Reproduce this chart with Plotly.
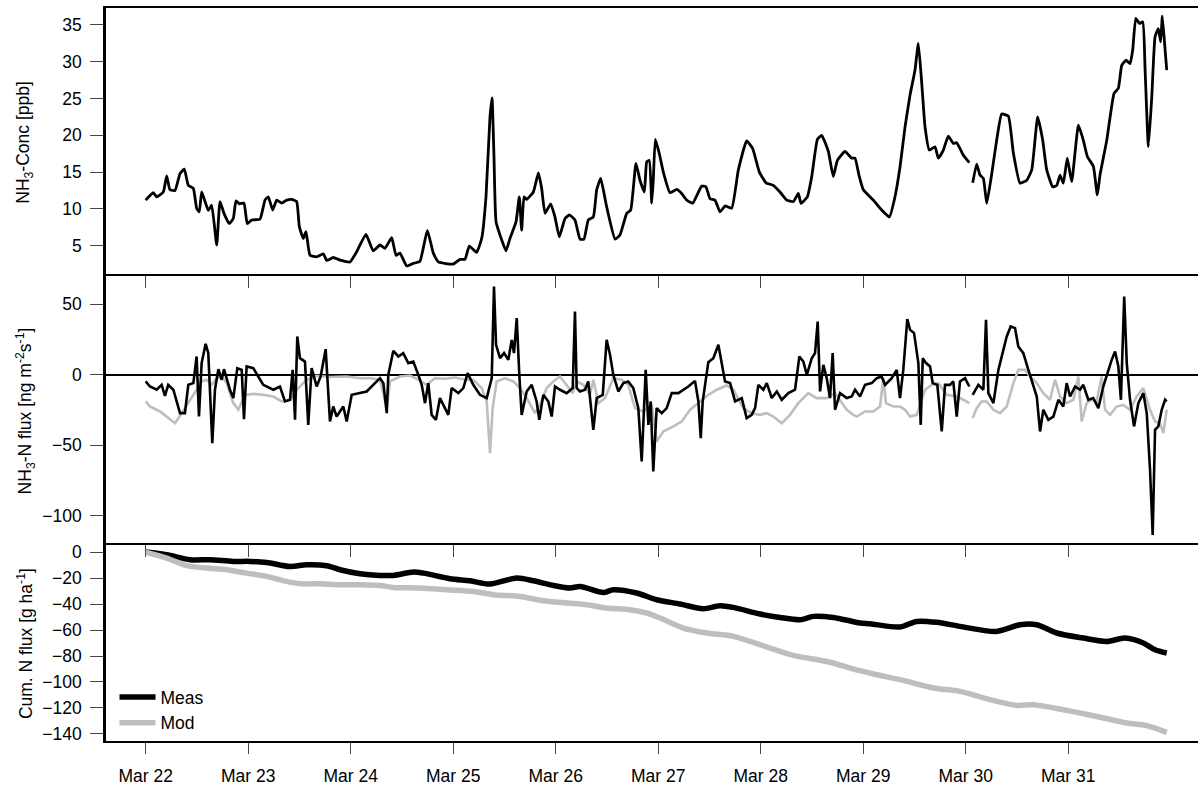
import pandas as pd
import plotly.graph_objects as go

# ---------------- data (time in days since Mar 22 00:00) ----------------
START = "2015-03-22"
tick_days = [0, 1, 2, 3, 4, 5, 6, 7, 8, 9]
tick_labels = ["Mar 22", "Mar 23", "Mar 24", "Mar 25", "Mar 26",
               "Mar 27", "Mar 28", "Mar 29", "Mar 30", "Mar 31"]

conc_days = [0, .074, .107, .172, .205, .237, .286, .335, .377, .416, .465, .497, .523, .546, .579, .611,
             .644, .693, .725, .764, .816, .855, .881, .913, .959, .991, 1.034, 1.115, 1.164, 1.196, 1.239,
             1.278, 1.327, 1.376, 1.424, 1.473, 1.499, 1.538, 1.564, 1.603, 1.668, 1.733, 1.766, 1.83, 1.896,
             1.993, 2.059, 2.149, 2.22, 2.286, 2.335, 2.40, 2.442, 2.481, 2.546, 2.611, 2.676, 2.748, 2.806,
             2.855, 3.0, 3.066, 3.115, 3.157, 3.229, 3.278, 3.32, 3.359, 3.379, 3.398, 3.418, 3.473, 3.515,
             3.554, 3.613, 3.645, 3.668, 3.691, 3.717, 3.782, 3.831, 3.863, 3.896, 3.951, 3.993, 4.035, 4.091,
             4.133, 4.188, 4.237, 4.276, 4.318, 4.367, 4.40, 4.439, 4.497, 4.579, 4.627, 4.693, 4.732, 4.783,
             4.822, 4.865, 4.888, 4.913, 4.937, 4.952, 4.972, 5.011, 5.05, 5.115, 5.18, 5.229, 5.278, 5.337,
             5.424, 5.466, 5.505, 5.554, 5.603, 5.652, 5.717, 5.782, 5.863, 5.922, 5.987, 6.052, 6.123, 6.188,
             6.254, 6.318, 6.367, 6.393, 6.455, 6.498, 6.553, 6.595, 6.66, 6.708, 6.748, 6.822, 6.888, 6.92,
             6.96, 7.001, 7.099, 7.18, 7.255, 7.31, 7.359, 7.408, 7.457, 7.505, 7.538, 7.571, 7.603, 7.645,
             7.70, 7.733, 7.782, 7.83, 7.879, 7.912, 7.977, 8.035, 8.05, 8.068, 8.107, 8.139, 8.172, 8.205,
             8.254, 8.302, 8.351, 8.416, 8.465, 8.53, 8.595, 8.644, 8.702, 8.751, 8.79, 8.849, 8.888, 8.92,
             8.952, 8.991, 9.034, 9.099, 9.147, 9.187, 9.245, 9.284, 9.31, 9.376, 9.447, 9.489, 9.522, 9.564,
             9.603, 9.629, 9.659, 9.694, 9.727, 9.75, 9.782, 9.815, 9.847, 9.879, 9.902, 9.918, 9.945, 9.961]
conc_vals = [11.2, 12.2, 11.65, 12.3, 14.5, 12.6, 12.5, 14.8, 15.4, 13.2, 12.8, 10.1, 9.6, 12.3, 11.0, 9.8,
             10.5, 5.1, 11.0, 9.4, 8.0, 8.7, 11.1, 10.7, 10.8, 8.0, 8.5, 8.6, 11.2, 11.65, 9.85,
             11.2, 10.8, 11.2, 11.3, 11.0, 7.6, 6.0, 6.9, 3.7, 3.5, 3.9, 3.0, 3.4, 3.05,
             2.8, 4.2, 6.55, 4.3, 5.1, 4.65, 6.1, 3.7, 4.0, 2.25, 2.6, 2.9, 7.1, 4.0,
             2.8, 2.5, 3.15, 3.15, 4.96, 4.1, 6.0, 11.65, 22.5, 25.1, 17.1, 8.26, 5.8, 4.3,
             6.0, 8.26, 11.65, 7.1, 11.65, 11.3, 12.3, 14.9, 12.8, 9.4, 10.7, 8.9, 6.2, 8.7,
             9.2, 8.5, 5.9, 5.9, 8.5, 8.9, 12.6, 14.15, 10.3, 5.9, 6.45, 9.4, 9.85, 16.2,
             13.9, 12.3, 16.4, 16.6, 10.8, 13.9, 19.45, 17.5, 15.0, 12.2, 12.65, 12.1, 11.2, 10.8,
             13.1, 13.0, 11.4, 11.2, 9.6, 10.4, 10.1, 15.3, 19.25, 18.2, 15.0, 13.55, 13.2, 12.3,
             11.2, 11.0, 12.1, 10.75, 11.65, 14.4, 19.45, 20.0, 17.8, 14.4, 16.6, 17.8, 16.9, 16.9,
             14.5, 12.6, 11.2, 9.85, 8.9, 11.65, 15.7, 21.15, 25.5, 28.85, 32.5, 27.05, 21.15, 18.0,
             18.45, 16.9, 18.0, 19.9, 18.9, 19.0, 17.3, 16.3, None, 13.55, 16.1, 14.6, 14.15, 10.75,
             14.8, 19.35, 22.9, 22.6, 17.55, 13.5, 13.9, 15.3, 22.5, 19.35, 15.3, 13.0, 13.2, 14.6,
             13.5, 16.9, 13.7, 21.4, 19.35, 17.1, 15.8, 11.9, 14.6, 19.35, 25.7, 26.4, 29.5, 30.2,
             29.75, 31.6, 35.9, 35.2, 35.4, 28.85, 18.45, 25.2, 33.4, 34.5, 32.7, 36.2, 31.6, 28.85]

flux_meas_days = [0, .042, .107, .156, .188, .22, .27, .335, .383, .416, .465, .497, .52, .546, .585, .611,
                  .65, .676, .709, .741, .764, .822, .855, .894, .937, .959, .985, 1.05, 1.147, 1.245, 1.31,
                  1.359, 1.408, 1.434, 1.457, 1.479, 1.505, 1.554, 1.586, 1.619, 1.668, 1.707, 1.756, 1.782,
                  1.798, 1.83, 1.863, 1.928, 1.961, 2.01, 2.091, 2.156, 2.22, 2.286, 2.319, 2.352, 2.367,
                  2.416, 2.465, 2.513, 2.562, 2.611, 2.66, 2.693, 2.725, 2.757, 2.79, 2.832, 2.871, 2.92,
                  2.952, 2.985, 3.05, 3.099, 3.141, 3.196, 3.261, 3.327, 3.376, 3.398, 3.418, 3.457, 3.496,
                  3.538, 3.571, 3.593, 3.62, 3.645, 3.668, 3.717, 3.766, 3.814, 3.84, 3.879, 3.928, 3.961,
                  3.993, 4.042, 4.107, 4.166, 4.188, 4.205, 4.237, 4.286, 4.318, 4.367, 4.40, 4.459, 4.497,
                  4.53, 4.562, 4.611, 4.66, 4.708, 4.757, 4.806, 4.839, 4.878, 4.904, 4.927, 4.952, 4.985,
                  5.034, 5.083, 5.132, 5.197, 5.245, 5.294, 5.359, 5.392, 5.415, 5.434, 5.489, 5.538, 5.587,
                  5.62, 5.652, 5.701, 5.75, 5.815, 5.863, 5.912, 5.945, 5.977, 6.026, 6.059, 6.108, 6.157,
                  6.205, 6.27, 6.335, 6.377, 6.416, 6.45, 6.498, 6.53, 6.556, 6.579, 6.611, 6.644, 6.676,
                  6.702, 6.725, 6.774, 6.839, 6.888, 6.92, 6.969, 7.018, 7.083, 7.132, 7.18, 7.213, 7.278,
                  7.327, 7.359, 7.391, 7.43, 7.457, 7.496, 7.538, 7.561, 7.581, 7.613, 7.652, 7.678, 7.723,
                  7.766, 7.798, 7.847, 7.879, 7.912, 7.944, 7.993, 8.035, 8.05, 8.068, 8.123, 8.172, 8.198,
                  8.221, 8.27, 8.319, 8.367, 8.4, 8.439, 8.481, 8.513, 8.562, 8.611, 8.654, 8.693, 8.725,
                  8.757, 8.806, 8.855, 8.904, 8.952, 8.985, 9.018, 9.067, 9.115, 9.147, 9.196, 9.245, 9.294,
                  9.342, 9.391, 9.424, 9.457, 9.489, 9.514, 9.546, 9.571, 9.603, 9.642, 9.684, 9.733, 9.766,
                  9.798, 9.824, 9.847, 9.879, 9.912, 9.945, 9.961]
flux_meas_vals = [-4.7, -8.3, -10.6, -7.1, -14.9, -7.1, -10.6, -27.2, -27.2, -7.1, -5.9, 13.0, -29.6, 8.3, 22.0, 15.4,
                  -48.5, -10.6, 4.0, -3.5, 4.0, -10.6, -16.5, 4.7, 3.5, -31.4, 5.9, 4.7, -7.1, -10.6, -8.3,
                  -18.9, -17.7, 3.5, -31.9, 27.2, 11.8, 9.4, -35.5, 4.7, -8.3, -1.2, 18.2, -13.0,
                  -33.1, -22.5, -29.6, -22.5, -33.1, -14.2, -13.0, -11.8, -7.1, -2.4, -5.9, -27.2, 0.0,
                  17.0, 13.0, 15.4, 8.3, 9.4, 0.0, -7.1, -20.1, -5.9, -28.4, -31.9, -16.5, -23.6,
                  -28.4, -9.4, -13.0, -9.4, 1.2, -7.1, -14.2, -16.5, -2.4, 62.6, 21.3, 11.8, 15.4,
                  10.6, 24.8, 15.4, 40.2, 0.0, -28.4, -11.8, -7.1, -18.9, -31.9, -14.2, -18.9, -29.6,
                  -8.3, -10.6, -13.0, -9.4, 44.9, -9.4, -11.8, -10.6, -4.7, -39.0, -16.5, -14.2, 24.8,
                  14.2, 0.0, -11.8, -5.9, -4.7, -9.4, -23.6, -61.5, 3.5, -35.5, -18.9, -68.6, -23.6,
                  -27.2, -23.6, -13.0, -13.0, -10.6, -8.3, -4.3, -18.9, -44.9, -18.9, 9.0, 11.8, 21.3,
                  7.1, -4.7, -5.9, -18.9, -16.5, -30.7, -28.4, -23.6, -7.1, -10.6, -5.9, -16.5, -11.8,
                  -17.7, -13.0, -10.6, 13.0, 9.4, 0.0, 11.8, 15.4, 37.8, -11.8, 7.1, -2.4, -16.5,
                  15.4, -24.8, -13.0, -16.5, -15.4, -10.6, -15.4, -7.1, -5.9, -2.4, -1.2, -7.1, -2.4,
                  3.5, -16.5, 3.5, 39.5, 31.9, 29.6, 8.3, -35.5, 11.8, 8.3, 5.9, -5.9, -7.1,
                  -40.2, -7.1, -7.1, -4.7, -29.6, -4.7, -2.4, -8.3, None, -14.2, -7.1, -10.6, 39.0,
                  -13.0, -20.1, 3.5, 17.7, 27.2, 34.3, 33.1, 20.1, 15.4, 3.5, -7.1, -15.4, -40.2,
                  -24.8, -31.9, -29.6, -17.7, -22.5, -5.9, -15.4, -8.3, -10.6, -7.1, -17.7, -16.5, -23.6,
                  -8.3, 3.5, 10.6, 16.5, 5.9, -17.7, 55.5, 8.3, -17.7, -36.6, -20.1, -13.0, -27.2,
                  -67.4, -113.5, -39.0, -36.6, -24.8, -17.7, -18.9]

flux_mod_days = [0, .042, .14, .205, .286, .351, .416, .497, .546, .595, .644, .693, .741, .79, .855, .904,
                 .969, 1.05, 1.147, 1.245, 1.326, 1.408, 1.473, 1.57, 1.668, 1.798, 1.961, 2.091, 2.188, 2.286,
                 2.352, 2.384, 2.481, 2.578, 2.66, 2.741, 2.822, 2.92, 3.017, 3.115, 3.196, 3.278, 3.327,
                 3.359, 3.385, 3.424, 3.506, 3.587, 3.652, 3.717, 3.798, 3.847, 3.912, 3.977, 4.042, 4.107,
                 4.166, 4.205, 4.27, 4.335, 4.367, 4.416, 4.481, 4.562, 4.643, 4.708, 4.773, 4.855, 4.937,
                 4.985, 5.05, 5.148, 5.229, 5.31, 5.392, 5.489, 5.571, 5.668, 5.733, 5.83, 5.912, 5.993,
                 6.059, 6.123, 6.205, 6.286, 6.367, 6.465, 6.546, 6.644, 6.725, 6.839, 6.904, 6.937, 7.018,
                 7.099, 7.164, 7.196, 7.222, 7.294, 7.359, 7.408, 7.457, 7.522, 7.561, 7.603, 7.668, 7.733,
                 7.815, 7.912, 7.977, 8.035, 8.05, 8.068, 8.107, 8.156, 8.205, 8.27, 8.335, 8.4, 8.465,
                 8.513, 8.578, 8.627, 8.693, 8.757, 8.822, 8.871, 8.92, 8.985, 9.05, 9.099, 9.131, 9.18,
                 9.229, 9.277, 9.326, 9.359, 9.408, 9.473, 9.538, 9.603, 9.668, 9.733, 9.798, 9.847, 9.896,
                 9.928, 9.961]
flux_mod_vals = [-18.9, -22.5, -26.0, -29.6, -34.3, -27.2, -20.1, -10.6, -4.7, -3.5, -7.1, -2.4, -1.2, -5.9, -20.1, -24.8,
                 -14.2, -13.5, -14.2, -15.4, -18.9, -17.7, -10.6, -3.5, -0.7, -1.6, -1.2, -2.4, -2.4, -3.5,
                 -23.6, -4.7, -1.2, -0.5, -3.5, -7.1, -2.4, -2.8, -1.9, -3.5, -3.5, -9.4, -18.9,
                 -55.5, -23.6, -4.7, -2.4, -4.7, -9.4, -16.5, -27.2, -21.3, -9.4, -4.7, -1.2, -7.1,
                 -13.0, -4.7, -7.1, -14.2, -3.5, -20.1, -16.5, -2.4, -3.5, -7.1, -23.6, -26.0, -21.3,
                 -47.3, -40.2, -36.6, -33.1, -24.8, -20.1, -14.2, -10.6, -7.6, -10.6, -23.6, -27.2, -28.4,
                 -27.2, -29.6, -34.3, -28.4, -20.1, -13.0, -16.5, -16.5, -13.0, -24.8, -28.4, -29.6, -26.0,
                 -26.0, -22.5, -2.4, -20.1, -22.5, -22.5, -24.8, -29.6, -28.4, -20.1, -10.6, -7.1, -5.9,
                 -14.2, -15.4, -17.7, -20.1, None, -30.7, -23.6, -18.9, -18.9, -24.8, -27.2, -22.5, -5.9,
                 3.5, 3.5, -1.2, -5.9, -13.0, -17.7, -3.5, -15.4, -20.1, -17.7, -1.2, -33.1, -20.1,
                 -17.7, -18.9, -1.2, -24.8, -28.4, -22.5, -21.3, -24.8, -15.4, -9.4, -24.8, -33.1, -34.3,
                 -41.4, -24.8]

cum_meas_days = [0, .205, .432, .627, .855, 1.018, 1.18, 1.408, 1.57, 1.765, 1.896, 2.091, 2.286, 2.416, 2.611,
                 2.709, 2.969, 3.164, 3.359, 3.62, 3.782, 3.977, 4.14, 4.237, 4.465, 4.562, 4.79, 4.985, 5.213,
                 5.44, 5.603, 5.733, 5.993, 6.188, 6.384, 6.514, 6.708, 6.969, 7.067, 7.36, 7.52, 7.717, 7.944,
                 8.30, 8.53, 8.693, 8.888, 9.147, 9.376, 9.554, 9.733, 9.847, 9.961]
cum_meas_vals = [0.0, -2.1, -5.9, -5.9, -7.2, -7.2, -8.0, -11.1, -9.8, -10.5, -13.6, -16.7, -18.0, -18.0, -15.4,
                 -16.2, -20.5, -22.1, -24.6, -20.0, -22.1, -25.7, -27.7, -26.5, -31.1, -29.0, -31.5, -36.7, -40.0,
                 -43.6, -41.3, -42.6, -47.7, -50.3, -52.1, -49.5, -50.3, -54.6, -55.2, -57.7, -53.4, -54.1, -57.2,
                 -61.1, -55.9, -55.9, -62.3, -66.2, -68.8, -66.2, -70.0, -75.2, -77.7]

cum_mod_days = [0, .205, .4, .595, .79, .985, 1.18, 1.375, 1.505, 1.7, 1.896, 2.091, 2.286, 2.416, 2.676, 2.937,
                3.196, 3.392, 3.652, 3.88, 4.107, 4.302, 4.497, 4.725, 4.888, 5.018, 5.245, 5.473, 5.733, 5.993,
                6.319, 6.644, 6.969, 7.132, 7.36, 7.685, 7.944, 8.237, 8.497, 8.66, 8.953, 9.28, 9.57, 9.766, 9.961]
cum_mod_vals = [0.0, -4.6, -10.5, -12.3, -13.6, -16.2, -18.7, -22.6, -24.4, -24.4, -25.2, -25.2, -25.7, -27.2, -27.7, -29.0,
                -30.3, -32.8, -34.2, -37.5, -39.2, -40.5, -43.1, -44.4, -46.9, -50.8, -58.5, -62.3, -64.9, -71.3,
                -79.5, -84.2, -91.3, -94.4, -98.2, -104.6, -107.2, -113.6, -118.0, -117.5, -121.3, -126.5, -131.5, -133.6, -138.8]

conc_ticks = [5, 10, 15, 20, 25, 30, 35]
flux_ticks = [-100, -50, 0, 50]
cum_ticks = [0, -20, -40, -60, -80, -100, -120, -140]

# ---------------- helpers ----------------
BASE = pd.Timestamp(START)


def to_time(days):
    return [BASE + pd.Timedelta(days=d) for d in days]


GREY = "#bebebe"
FONT = "Liberation Sans, Arial, sans-serif"
FS = 17.5

fig = go.Figure()
fig.add_trace(go.Scatter(x=to_time(conc_days), y=conc_vals, mode="lines",
                         line=dict(color="black", width=2.8, shape="spline", smoothing=0.4),
                         xaxis="x", yaxis="y", showlegend=False, connectgaps=False))
fig.add_trace(go.Scatter(x=to_time(flux_mod_days), y=flux_mod_vals, mode="lines",
                         line=dict(color=GREY, width=2.6), xaxis="x2", yaxis="y2",
                         showlegend=False, connectgaps=False))
fig.add_trace(go.Scatter(x=to_time(flux_meas_days), y=flux_meas_vals, mode="lines",
                         line=dict(color="black", width=2.6), xaxis="x2", yaxis="y2",
                         showlegend=False, connectgaps=False))
fig.add_trace(go.Scatter(x=to_time(cum_meas_days), y=cum_meas_vals, mode="lines", name="Meas",
                         line=dict(color="black", width=5.5, shape="spline", smoothing=0.8),
                         xaxis="x3", yaxis="y3"))
fig.add_trace(go.Scatter(x=to_time(cum_mod_days), y=cum_mod_vals, mode="lines", name="Mod",
                         line=dict(color=GREY, width=5.5, shape="spline", smoothing=0.8),
                         xaxis="x4", yaxis="y3"))

xrange = [BASE - pd.Timedelta(days=0.387), BASE + pd.Timedelta(days=10.266)]
tickvals = to_time(tick_days)

common_x = dict(type="date", range=xrange, tickvals=tickvals, ticktext=tick_labels,
                showgrid=False, zeroline=False, showline=True, mirror=False,
                linecolor="black", linewidth=2, tickcolor="#444444", tickwidth=1,
                domain=[0, 1])
common_y = dict(showgrid=False, showline=True, linecolor="black", linewidth=2.6,
                ticks="outside", ticklen=13, tickwidth=1.1, tickcolor="#444444",
                tickfont=dict(size=FS, color="black", family=FONT), ticklabelstandoff=5)

dom1 = [0.635, 1.0]
dom2 = [0.267, 0.635]
dom3 = [0.0, 0.267]

fig.update_layout(
    width=1198, height=790,
    margin=dict(l=106, r=0, t=8, b=49),
    paper_bgcolor="white", plot_bgcolor="white",
    font=dict(family=FONT, size=FS, color="black"),
    xaxis=dict(common_x, anchor="y", side="top", ticks="", showticklabels=False),
    xaxis2=dict(common_x, anchor="y2", side="top", ticks="inside", ticklen=12,
                showticklabels=False),
    xaxis3=dict(common_x, anchor="y3", side="top", ticks="inside", ticklen=12,
                showticklabels=False),
    xaxis4=dict(common_x, anchor="y3", overlaying="x3", side="bottom", ticks="outside",
                ticklen=11, showticklabels=True, ticklabelstandoff=7,
                tickfont=dict(size=FS, color="black", family=FONT)),
    yaxis=dict(common_y, domain=dom1, range=[0.95, 37.3], tickvals=conc_ticks, anchor="x",
               zeroline=False),
    yaxis2=dict(common_y, domain=dom2, range=[-120.9, 70.4], tickvals=flux_ticks, anchor="x2",
                zeroline=True, zerolinecolor="black", zerolinewidth=1.5),
    yaxis3=dict(common_y, domain=dom3, range=[-145.4, 5.2], tickvals=cum_ticks, anchor="x3",
                zeroline=False),
    legend=dict(x=0.0078, y=0.0, xanchor="left", yanchor="bottom",
                bgcolor="rgba(0,0,0,0)", font=dict(size=FS, family=FONT, color="black"),
                tracegroupgap=0, itemwidth=36),
    showlegend=True,
)

titles = [
    ("NH<sub>3</sub>-Conc [ppb]", sum(dom1) / 2),
    ("NH<sub>3</sub>-N flux [ng m<sup>-2</sup>s<sup>-1</sup>]", sum(dom2) / 2),
    ("Cum. N flux [g ha<sup>-1</sup>]", sum(dom3) / 2),
]
for text, yc in titles:
    fig.add_annotation(text=text, xref="paper", yref="paper", x=-0.0742, y=yc,
                       xanchor="center", yanchor="middle", textangle=-90, showarrow=False,
                       font=dict(size=FS, family=FONT, color="black"))

fig.write_html("out.html")
